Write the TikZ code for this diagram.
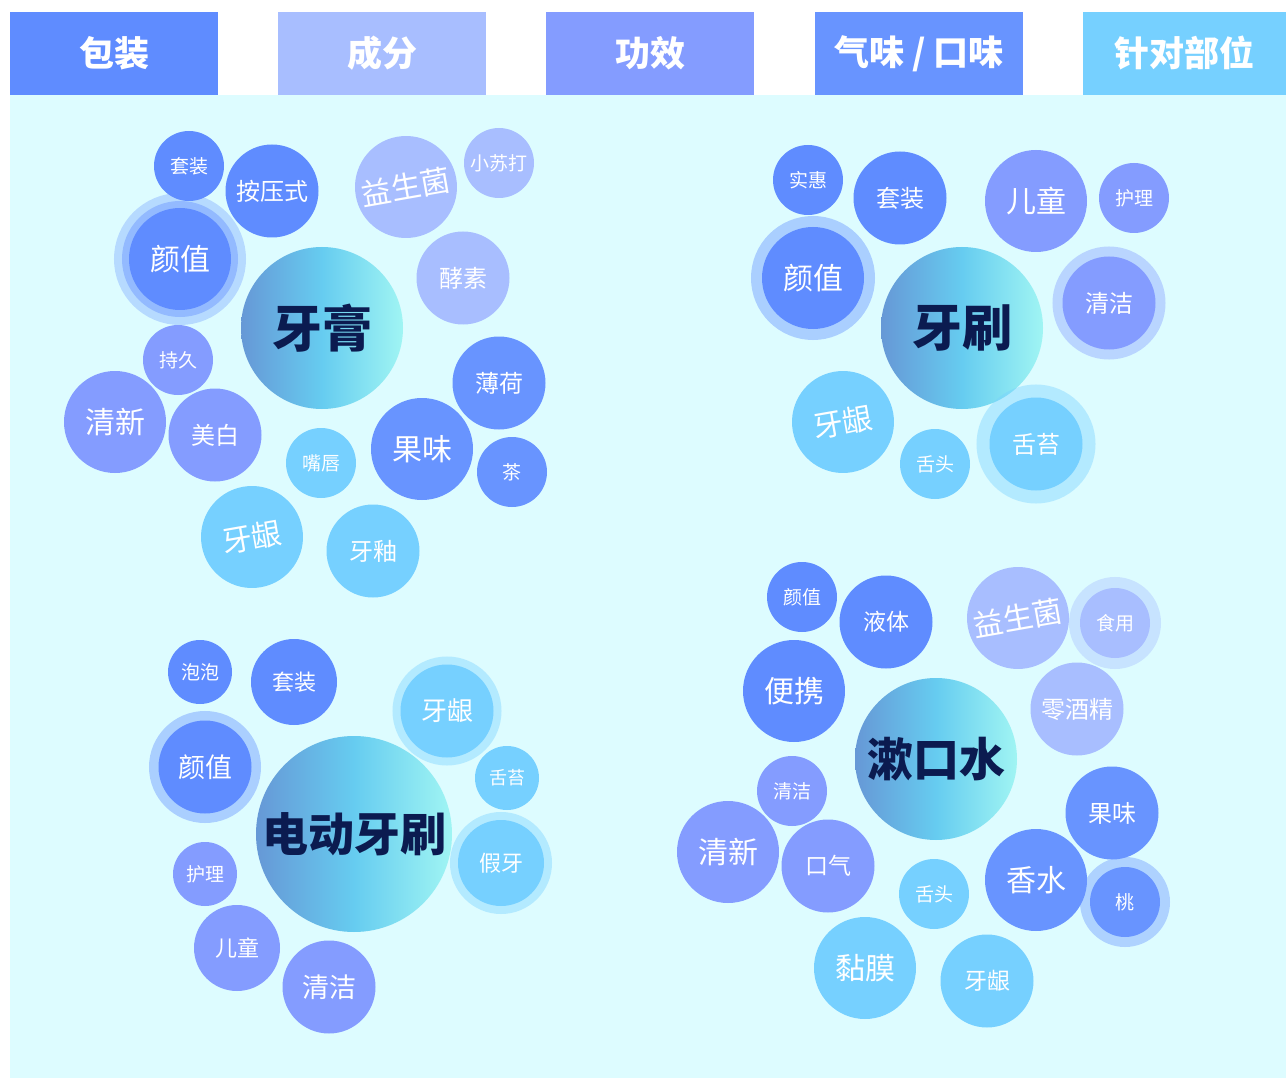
\documentclass[tikz,border=0pt]{standalone}
\usepackage{fontspec}
\newfontfamily\cjk{Noto Sans CJK SC}
\usetikzlibrary{calc}

\definecolor{pack}{HTML}{5F8CFF}
\definecolor{ingr}{HTML}{A8BEFF}
\definecolor{effect}{HTML}{849CFF}
\definecolor{flavor}{HTML}{6894FF}
\definecolor{part}{HTML}{76D0FF}
\definecolor{bgcyan}{HTML}{DDFCFF}
\definecolor{navy}{HTML}{0B1B50}
\definecolor{gradL}{HTML}{6698D6}
\definecolor{gradM}{HTML}{66CCF0}
\definecolor{gradR}{HTML}{A0F5F3}

\tikzset{
  head/.style={fill=#1, minimum height=83pt, inner sep=0pt, text=white,
    font=\cjk\bfseries\fontsize{35}{35}\selectfont},
  bub/.style={circle, inner sep=0pt, text=white, fill=#1},
  halo/.style args={#1/#2}{preaction={draw=#1, draw opacity=.4, line width=#2}},
  sm/.style={minimum size=70pt, font=\cjk\fontsize{19}{19}\selectfont},
  md/.style={minimum size=93pt, font=\cjk\fontsize{24}{24}\selectfont},
  lg/.style={minimum size=102pt, font=\cjk\fontsize{30}{30}\selectfont},
  xs/.style={minimum size=64pt, font=\cjk\fontsize{19}{19}\selectfont},
  mx/.style={minimum size=86pt, font=\cjk\fontsize{22}{22}\selectfont},
  hub/.style={circle, inner sep=0pt, minimum size=#1, left color=gradL, right color=gradR,
    middle color=gradM, text=navy, font=\cjk\bfseries\fontsize{46}{46}\selectfont}
}

\begin{document}
\begin{tikzpicture}[x=1pt, y=-1pt]
        \useasboundingbox (0,0) rectangle (1286,1078);
        \fill[bgcyan] (10,95) rectangle (1286,1078);

        % category headers
        \node[head=pack, minimum width=208pt] (hPack) at (114,53.5) {包装};
        \node[head=ingr, minimum width=208pt] (hIngr) at (382,53.5) {成分};
        \node[head=effect, minimum width=208pt] (hEffect) at (650,53.5) {功效};
        \node[head=flavor, minimum width=208pt] (hFlavor) at (919,53.5) {气味 / 口味};
        \node[head=part, minimum width=203pt] (hPart) at (1184.5,53.5) {针对部位};

        % 牙膏
        \node[hub=162pt, font=\cjk\bfseries\fontsize{50}{50}\selectfont] (paste) at (322,328) {牙膏};
        \node[bub=pack, sm] (pasteSet) at (189,166) {套装};
        \node[bub=pack, md] (pastePress) at (272,191) {按压式};
        \node[bub=pack, lg, preaction={draw=pack, draw opacity=.3, line width=30pt},
              halo=pack/14pt] (pasteLook) at (180,259) {颜值};
        \node[bub=ingr, lg, rotate=10] (pastePro) at (406,187) {益生菌};
        \node[bub=ingr, sm] (pasteSoda) at (499,163) {小苏打};
        \node[bub=ingr, md] (pasteEnz) at (463,278) {酵素};
        \node[bub=effect, sm] (pasteLast) at (178,360) {持久};
        \node[bub=effect, lg] (pasteFresh) at (115,422) {清新};
        \node[bub=effect, md] (pasteWhite) at (215,435) {美白};
        \node[bub=flavor, md] (pasteMint) at (499,383) {薄荷};
        \node[bub=flavor, lg] (pasteFruit) at (422,449) {果味};
        \node[bub=flavor, sm] (pasteTea) at (512,472) {茶};
        \node[bub=part, sm] (pasteLip) at (321,463) {嘴唇};
        \node[bub=part, lg, rotate=10] (pasteGum) at (252,537) {牙龈};
        \node[bub=part, md] (pasteEnamel) at (373,551) {牙釉};

        % 牙刷
        \node[hub=162pt, font=\cjk\bfseries\fontsize{50}{50}\selectfont] (brush) at (962,328) {牙刷};
        \node[bub=pack, sm] (brushCheap) at (808,180) {实惠};
        \node[bub=pack, md] (brushSet) at (900,198) {套装};
        \node[bub=pack, lg, halo=pack/22pt] (brushLook) at (813,278) {颜值};
        \node[bub=effect, lg] (brushKid) at (1036,201) {儿童};
        \node[bub=effect, sm] (brushCare) at (1134,198) {护理};
        \node[bub=effect, md, halo=effect/20pt] (brushClean) at (1109,303) {清洁};
        \node[bub=part, lg, rotate=10] (brushGum) at (843,422) {牙龈};
        \node[bub=part, sm] (brushTongue) at (935,464) {舌头};
        \node[bub=part, md, halo=part/26pt] (brushCoat) at (1036,444) {舌苔};

        % 电动牙刷
        \node[hub=196pt] (ebrush) at (354,834) {电动牙刷};
        \node[bub=pack, xs] (ebrushFoam) at (200,672) {泡泡};
        \node[bub=pack, mx] (ebrushSet) at (294,682) {套装};
        \node[bub=pack, md, font=\cjk\fontsize{27}{27}\selectfont, halo=pack/19pt] (ebrushLook) at (205,767) {颜值};
        \node[bub=part, md, font=\cjk\fontsize{26}{26}\selectfont, halo=part/16pt] (ebrushGum) at (447,711) {牙龈};
        \node[bub=part, xs, font=\cjk\fontsize{18}{18}\selectfont] (ebrushCoat) at (507,778) {舌苔};
        \node[bub=part, mx, halo=part/16pt] (ebrushDenture) at (501,863) {假牙};
        \node[bub=effect, xs] (ebrushCare) at (205,874) {护理};
        \node[bub=effect, mx] (ebrushKid) at (237,948) {儿童};
        \node[bub=effect, md, font=\cjk\fontsize{27}{27}\selectfont] (ebrushClean) at (329,987) {清洁};

        % 漱口水
        \node[hub=162pt] (wash) at (936,759) {漱口水};
        \node[bub=pack, sm] (washLook) at (802,597) {颜值};
        \node[bub=pack, md, font=\cjk\fontsize{23}{23}\selectfont] (washLiquid) at (886,622) {液体};
        \node[bub=pack, lg] (washCarry) at (794,691) {便携};
        \node[bub=ingr, lg, rotate=10] (washPro) at (1018,618) {益生菌};
        \node[bub=ingr, sm, halo=ingr/22pt] (washEdible) at (1115,623) {食用};
        \node[bub=ingr, md] (washNoAlc) at (1077,709) {零酒精};
        \node[bub=effect, sm] (washClean) at (792,791) {清洁};
        \node[bub=effect, lg] (washFresh) at (728,852) {清新};
        \node[bub=effect, md, font=\cjk\fontsize{23}{23}\selectfont] (washBreath) at (828,866) {口气};
        \node[bub=flavor, md] (washFruit) at (1112,813) {果味};
        \node[bub=flavor, lg] (washPerfume) at (1036,880) {香水};
        \node[bub=flavor, sm, halo=flavor/20pt] (washPeach) at (1125,902) {桃};
        \node[bub=part, sm] (washTongue) at (934,894) {舌头};
        \node[bub=part, lg] (washMucosa) at (865,968) {黏膜};
        \node[bub=part, md, font=\cjk\fontsize{23}{23}\selectfont] (washGum) at (987,981) {牙龈};

    \end{tikzpicture}
\end{document}
